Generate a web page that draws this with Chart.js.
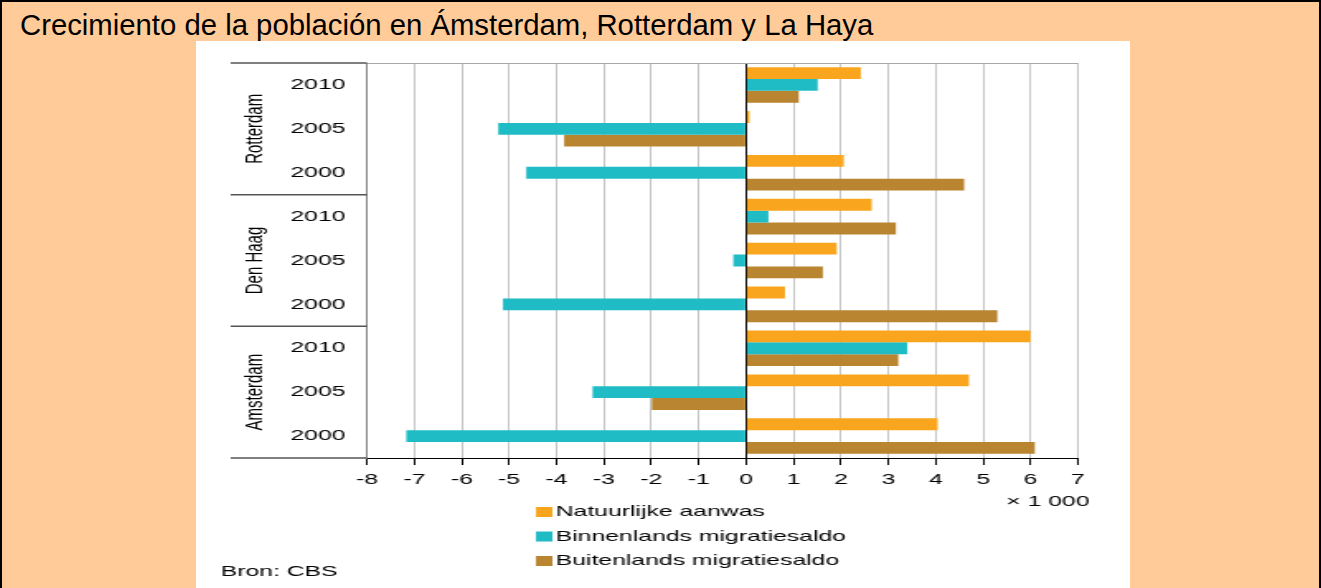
<!DOCTYPE html>
<html>
<head>
<meta charset="utf-8">
<script src="https://cdn.jsdelivr.net/npm/chart.js@4"></script>
<style>
    html, body { margin: 0; padding: 0; overflow: hidden; }
    body { width: 1321px; height: 588px; position: relative; background: #FFCC99; font-family: 'Liberation Sans', Arial, sans-serif; }
    #frame { position: absolute; left: 0; top: 0; width: 1321px; height: 600px; box-sizing: border-box; border: 2px solid #000; }
    #title { position: absolute; left: 20px; top: 10px; z-index: 2; font-size: 29.3px; line-height: 29px; color: #000; white-space: nowrap; }
    #panel { position: absolute; left: 196px; top: 41px; width: 934px; height: 547px; background: #fff; overflow: hidden; z-index: 1; }
    /* the original graphic is a horizontally stretched image */
    #stretch { position: absolute; left: 0; top: 0; width: 566px; height: 547px; transform: scaleX(1.65); transform-origin: 0 0; }
</style>
</head>
<body>
<div id="frame"></div>
<div id="title">Crecimiento de la población en Ámsterdam, Rotterdam y La Haya</div>
<div id="panel">
    <div id="stretch"><canvas id="chart"></canvas></div>
</div>
<script>
// Data (x 1 000)
const years = ['2010', '2005', '2000', '2010', '2005', '2000', '2010', '2005', '2000'];
const cities = ['Rotterdam', 'Den Haag', 'Amsterdam'];
const natuurlijkeAanwas = [2.42, 0.07, 2.06, 2.65, 1.91, 0.82, 6.0, 4.7, 4.04];
const binnenlandsSaldo = [1.51, -5.23, -4.64, 0.47, -0.27, -5.13, 3.4, -3.24, -7.17];
const buitenlandsSaldo = [1.11, -3.84, 4.6, 3.16, 1.62, 5.3, 3.21, -1.99, 6.09];
const seriesNames = ['Natuurlijke aanwas', 'Binnenlands migratiesaldo', 'Buitenlands migratiesaldo'];
const seriesColors = ['#F9A61E', '#1FBCC6', '#B98531'];
const xMin = -8;
const xMax = 7;

const FONT = "'Liberation Sans', Arial, sans-serif";
Chart.defaults.font.family = FONT;
Chart.defaults.font.size = 15;
Chart.defaults.color = '#000';

// Extra drawing: group separators, city names, legend, notes
const decorations = {
    id: 'decorations',
    afterDraw(chart) {
        const ctx = chart.ctx;
        const area = chart.chartArea;
        const y = chart.scales.y;
        ctx.save();

        // top border of the plot
        ctx.strokeStyle = '#a8a8a8';
        ctx.lineWidth = 1;
        ctx.beginPath();
        ctx.moveTo(area.left, area.top + 0.5);
        ctx.lineTo(area.right, area.top + 0.5);
        ctx.stroke();

        // separators between cities
        ctx.strokeStyle = '#555';
        ctx.lineWidth = 1.5;
        [-0.5, 2.5, 5.5, 8.5].forEach(v => {
            const py = y.getPixelForValue(v);
            ctx.beginPath();
            ctx.moveTo(21, py);
            ctx.lineTo(area.left, py);
            ctx.stroke();
        });

        // city names, rotated
        ctx.fillStyle = '#000';
        ctx.font = '15px ' + FONT;
        ctx.textAlign = 'center';
        ctx.textBaseline = 'middle';
        cities.forEach((city, i) => {
            const py = y.getPixelForValue(i * 3 + 1);
            ctx.save();
            ctx.translate(36, py);
            ctx.rotate(-Math.PI / 2);
            ctx.fillText(city, 0, 0);
            ctx.restore();
        });

        // unit note
        ctx.textAlign = 'right';
        ctx.fillText('\u00d7 1 000', area.right + 7, 461);

        // legend
        ctx.textAlign = 'left';
        chart.data.datasets.forEach((ds, i) => {
            const py = 471 + i * 24.5;
            ctx.fillStyle = ds.backgroundColor;
            ctx.fillRect(206, py - 5, 10, 10);
            ctx.fillStyle = '#000';
            ctx.fillText(ds.label, 218, py);
        });

        ctx.fillText('Bron: CBS', 15, 531);
        ctx.restore();
    }
};

const ctx = document.getElementById('chart').getContext('2d');
new Chart(ctx, {
    type: 'bar',
    data: {
        labels: years,
        datasets: [
            { label: seriesNames[0], data: natuurlijkeAanwas, backgroundColor: seriesColors[0] },
            { label: seriesNames[1], data: binnenlandsSaldo, backgroundColor: seriesColors[1] },
            { label: seriesNames[2], data: buitenlandsSaldo, backgroundColor: seriesColors[2] }
        ]
    },
    options: {
        indexAxis: 'y',
        responsive: true,
        maintainAspectRatio: false,
        animation: false,
        categoryPercentage: 0.81,
        barPercentage: 1.0,
        layout: { padding: { left: 0, right: 31.5, top: 21, bottom: 100 } },
        plugins: {
            legend: { display: false },
            tooltip: { enabled: false }
        },
        scales: {
            x: {
                min: xMin,
                max: xMax,
                ticks: { stepSize: 1, padding: 6, color: '#000', font: { size: 15 } },
                grid: {
                    color: c => (c.tick && c.tick.value === 0) ? '#000' : '#c4c4c4',
                    tickColor: '#000',
                    tickLength: 7,
                    lineWidth: 1
                },
                border: { color: '#000', width: 1 },
                afterFit: scale => { scale.height = 30; }
            },
            y: {
                ticks: { padding: 13, color: '#000', font: { size: 15 } },
                grid: { display: false, drawTicks: false },
                border: { color: '#808080', width: 1 },
                afterFit: scale => { scale.width = 103.6; }
            }
        }
    },
    plugins: [decorations]
});
</script>
</body>
</html>
